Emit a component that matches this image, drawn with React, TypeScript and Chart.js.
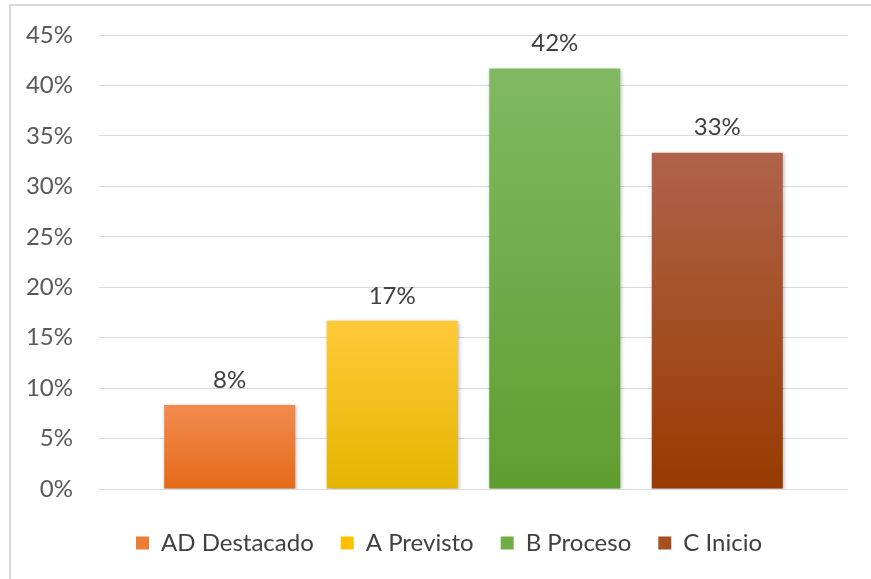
import React, { useEffect, useRef } from "react";
import { Chart, registerables } from "chart.js";

Chart.register(...registerables);

const categories = ["AD Destacado", "A Previsto", "B Proceso", "C Inicio"];
const values = [8.33, 16.67, 41.67, 33.33];
const yTicks = [0, 5, 10, 15, 20, 25, 30, 35, 40, 45];
const topColors = ["#F28B4F", "#FFCA38", "#80B962", "#B0634A"];
const bottomColors = ["#E46A18", "#E6B400", "#5E9E30", "#983A00"];
const legendColors = ["#ED7D31", "#FFC000", "#70AD47", "#A5501E"];

const FONT = "Lato, 'Open Sans', sans-serif";

export default function App() {
  const ref = useRef<HTMLCanvasElement | null>(null);

  useEffect(() => {
    if (!ref.current) return;
    const shadowPlugin = {
      id: "barShadow",
      afterLayout(chart: any) {
        if (chart.legend) {
          chart.legend.left += 25;
          chart.legend.right += 25;
        }
      },
      beforeDatasetsDraw(chart: any) {
        const ctx = chart.ctx;
        ctx.save();
        ctx.shadowColor = "rgba(0,0,0,0.28)";
        ctx.shadowBlur = 4;
        ctx.shadowOffsetX = 1;
        ctx.shadowOffsetY = 1;
      },
      afterDatasetsDraw(chart: any) {
        const ctx = chart.ctx;
        ctx.restore();
        ctx.save();
        ctx.font = "24px " + FONT;
        ctx.fillStyle = "#404040";
        ctx.textAlign = "center";
        ctx.textBaseline = "bottom";
        chart.data.datasets.forEach((ds: any, i: number) => {
          const meta = chart.getDatasetMeta(i);
          meta.data.forEach((el: any, j: number) => {
            const v = ds.data[j];
            ctx.fillText(Math.round(v) + "%", el.x, el.y - 13);
          });
        });
        ctx.restore();
      },
    };

    const chart = new Chart(ref.current, {
      type: "bar",
      data: {
        labels: [""],
        datasets: categories.map((c, i) => ({
          label: c,
          data: [values[i]],
          backgroundColor: (context: any) => {
            const ch = context.chart;
            const y = ch.scales && ch.scales.y;
            if (!ch.chartArea || !y) return legendColors[i];
            const top = y.getPixelForValue(values[i]);
            const bottom = y.getPixelForValue(0);
            if (!isFinite(top) || !isFinite(bottom) || top === bottom) return legendColors[i];
            const g = ch.ctx.createLinearGradient(0, top, 0, bottom);
            g.addColorStop(0, topColors[i]);
            g.addColorStop(1, bottomColors[i]);
            return g;
          },
          borderWidth: 0,
          categoryPercentage: 0.868,
          barPercentage: 0.806,
        })),
      },
      options: {
        responsive: false,
        animation: false,
        layout: { padding: { top: 35, right: 23, left: 0, bottom: 14 } },
        plugins: {
          tooltip: { enabled: false },
          legend: {
            position: "bottom",
            labels: {
              boxWidth: 13,
              boxHeight: 13,
              padding: 27,
              color: "#404040",
              font: { family: FONT, size: 24 },
              generateLabels: (chart: any) =>
                chart.data.datasets.map((ds: any, i: number) => ({
                  text: ds.label,
                  fillStyle: legendColors[i],
                  strokeStyle: legendColors[i],
                  lineWidth: 0,
                  hidden: false,
                  datasetIndex: i,
                  fontColor: "#404040",
                })),
            },
          },
        },
        scales: {
          x: {
            grid: { display: false },
            border: { display: false },
            ticks: { display: false },
            afterFit: (s: any) => {
              s.height = 15;
            },
          },
          y: {
            min: 0,
            max: 45,
            afterBuildTicks: (s: any) => {
              s.ticks = yTicks.map((v) => ({ value: v }));
            },
            afterFit: (s: any) => {
              s.width = 99;
              s.paddingTop = 0;
              s.paddingBottom = 0;
            },
            grid: { color: "#D9D9D9", lineWidth: 1, drawTicks: false },
            border: { display: false },
            ticks: {
              padding: 26,
              color: "#595959",
              font: { family: FONT, size: 24 },
              callback: (v: any) => v + "%",
            },
          },
        },
      },
      plugins: [shadowPlugin],
    });
    return () => chart.destroy();
  }, []);

  return (
    <div
      style={{
        position: "fixed",
        left: 0,
        top: 0,
        width: 871,
        height: 579,
        background: "#fff",
        overflow: "hidden",
      }}
    >
      <div
        style={{
          position: "absolute",
          left: 9,
          top: 4,
          width: 900,
          height: 700,
          borderTop: "2px solid #D9D9D9",
          borderLeft: "2px solid #D9D9D9",
        }}
      />
      <canvas
        ref={ref}
        width={871}
        height={579}
        style={{ position: "absolute", left: 0, top: 0, width: 871, height: 579 }}
      />
    </div>
  );
}
